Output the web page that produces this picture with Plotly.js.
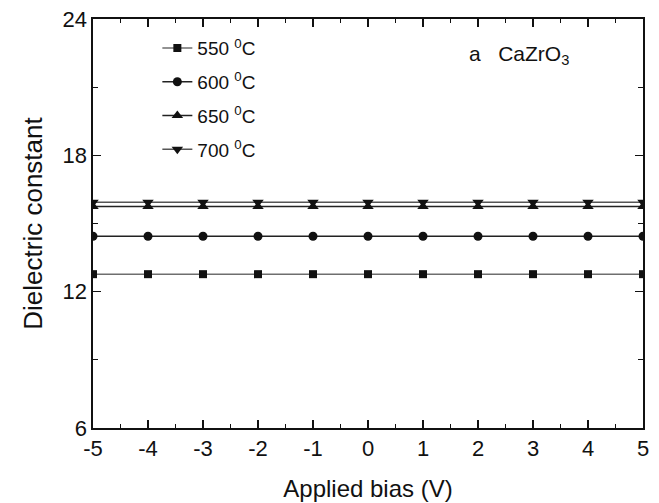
<!DOCTYPE html>
<html>
<head>
<meta charset="utf-8">
<script src="https://cdn.plot.ly/plotly-3.0.1.min.js"></script>
<style>
  html, body { margin: 0; padding: 0; background: #fff; }
  #chart { width: 659px; height: 503px; }
</style>
</head>
<body>
<div id="chart"></div>
<script>
// Applied bias sweep (V)
const bias = [-5, -4, -3, -2, -1, 0, 1, 2, 3, 4, 5];

// Dielectric constant for each sintering temperature
const eps550 = [12.77, 12.77, 12.77, 12.77, 12.77, 12.77, 12.77, 12.77, 12.77, 12.77, 12.77];
const eps600 = [14.44, 14.44, 14.44, 14.44, 14.44, 14.44, 14.44, 14.44, 14.44, 14.44, 14.44];
const eps650 = [15.75, 15.75, 15.75, 15.75, 15.75, 15.75, 15.75, 15.75, 15.75, 15.75, 15.75];
const eps700 = [15.93, 15.93, 15.93, 15.93, 15.93, 15.93, 15.93, 15.93, 15.93, 15.93, 15.93];

const seriesNames = ['550 <sup>0</sup>C', '600 <sup>0</sup>C', '650 <sup>0</sup>C', '700 <sup>0</sup>C'];
const seriesValues = [eps550, eps600, eps650, eps700];
const symbols = ['square', 'circle', 'triangle-up', 'triangle-down'];
const lineColors = ['#6e6e6e', '#222222', '#222222', '#555555'];
const markerSizes = [8, 9, 10, 10];

const xTicks = [-5, -4, -3, -2, -1, 0, 1, 2, 3, 4, 5];
const yTicks = [6, 12, 18, 24];

const traces = seriesValues.map((vals, i) => ({
  x: bias,
  y: vals,
  name: seriesNames[i],
  legendgroup: 'g' + i,
  type: 'scatter',
  mode: 'lines+markers',
  line: { color: lineColors[i], width: 1.5 },
  marker: { symbol: symbols[i], size: markerSizes[i], color: '#111111' }
}));

const fam = '"Liberation Sans", Arial, sans-serif';

const layout = {
  width: 659,
  height: 503,
  margin: { l: 93, r: 16, t: 19, b: 75 },
  paper_bgcolor: '#fff',
  plot_bgcolor: '#fff',
  font: { family: fam, color: '#111', size: 22 },
  showlegend: true,
  legend: {
    x: 0.117, y: 0.975, xanchor: 'left', yanchor: 'top',
    bgcolor: 'rgba(0,0,0,0)',
    traceorder: 'grouped',
    tracegroupgap: 6,
    font: { family: fam, size: 19, color: '#111' }
  },
  xaxis: {
    range: [-5, 5],
    tickvals: xTicks,
    ticktext: xTicks.map(String),
    ticks: 'inside', ticklen: 8, tickwidth: 1.3, tickcolor: '#111',
    minor: { dtick: 0.5, ticks: 'inside', ticklen: 4, tickwidth: 1.2, tickcolor: '#111', showgrid: false },
    showline: true, linecolor: '#111', linewidth: 1.6, mirror: 'ticks',
    showgrid: false, zeroline: false,
    tickfont: { family: fam, size: 22 },
    title: { text: 'Applied bias (V)', font: { family: fam, size: 24 }, standoff: 20 }
  },
  yaxis: {
    range: [6, 24],
    tickvals: yTicks,
    ticktext: yTicks.map(String),
    ticksuffix: '\u00a0',
    ticks: 'inside', ticklen: 8, tickwidth: 1.3, tickcolor: '#111',
    minor: { dtick: 3, ticks: 'inside', ticklen: 5, tickwidth: 1.2, tickcolor: '#111', showgrid: false },
    showline: true, linecolor: '#111', linewidth: 1.6, mirror: 'ticks',
    showgrid: false, zeroline: false,
    tickfont: { family: fam, size: 22 },
    title: { text: 'Dielectric constant', font: { family: fam, size: 26 }, standoff: 12 }
  },
  annotations: [{
    xref: 'paper', yref: 'paper', x: 0.68, y: 0.912,
    xanchor: 'left', yanchor: 'middle', showarrow: false,
    text: 'a&nbsp;&nbsp;&nbsp;CaZrO<sub>3</sub>',
    font: { family: fam, size: 21, color: '#111' }
  }]
};

Plotly.newPlot('chart', traces, layout, { displayModeBar: false, staticPlot: true });
</script>
</body>
</html>
